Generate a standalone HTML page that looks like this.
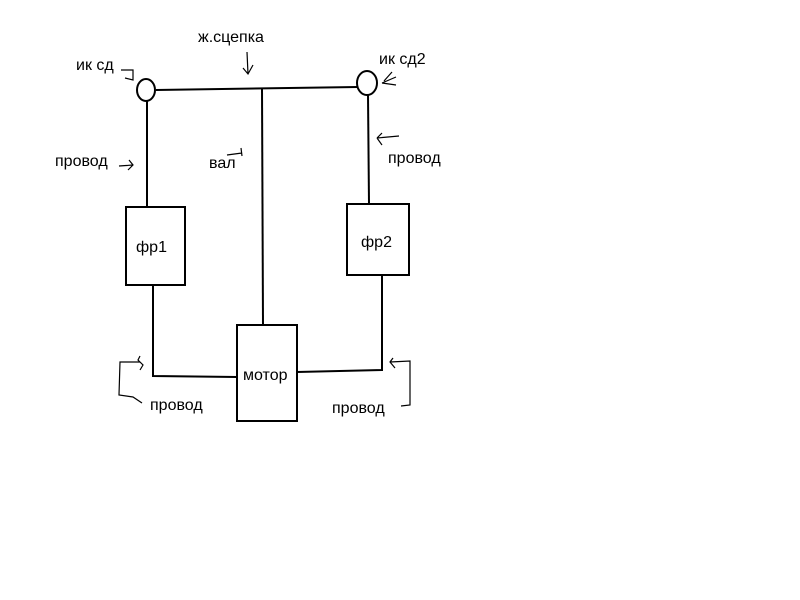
<!DOCTYPE html>
<html><head><style>body{margin:0;background:#fff}svg{display:block}text{font-family:"Liberation Sans",sans-serif;font-size:16px;fill:#000}</style></head>
<body><svg width="800" height="600" viewBox="0 0 800 600">
<g stroke="#000" stroke-width="2" fill="none">
<line x1="156" y1="90" x2="358" y2="87"/>
<ellipse cx="146" cy="90" rx="9" ry="11" fill="#fff"/>
<ellipse cx="367" cy="83" rx="10" ry="12" fill="#fff"/>
<line x1="147" y1="101" x2="147" y2="207"/>
<line x1="262" y1="89" x2="263" y2="325"/>
<line x1="368" y1="95" x2="369" y2="204"/>
<rect x="126" y="207" width="59" height="78"/>
<rect x="347" y="204" width="62" height="71"/>
<rect x="237" y="325" width="60" height="96"/>
<polyline points="153,285 153,376 237,377"/>
<polyline points="297,372 382,370 382,275"/>
</g>
<g stroke="#000" stroke-width="1.2" fill="none">
<path d="M121 70 L133 70 L133 80 L125 78"/>
<path d="M247 52 L248 74 M243 68 L248 74 L253 65"/>
<path d="M382 83 L396 77 M382 83 L396 85 M384 81 L392 72"/>
<path d="M119 166 L133 165 M129 160 L133 165 L128 170"/>
<path d="M227 155 L242 153 M241 148 L242 156"/>
<path d="M377 138 L399 136 M377 138 L382 133 M377 138 L382 145"/>
<path d="M140 356 L138 360 L143 365 L140 370 M140 362 L120 362 L119 395 L133 397 L142 403"/>
<path d="M393 358 L390 362 L395 368 M390 362 L410 361 L410 405 L401 406"/>
</g>
<text x="198" y="42">ж.сцепка</text>
<text x="76" y="70">ик сд</text>
<text x="379" y="64">ик сд2</text>
<text x="55" y="166">провод</text>
<text x="209" y="168">вал</text>
<text x="388" y="163">провод</text>
<text x="136" y="252">фр1</text>
<text x="361" y="247">фр2</text>
<text x="243" y="380">мотор</text>
<text x="150" y="410">провод</text>
<text x="332" y="413">провод</text>
</svg></body></html>
